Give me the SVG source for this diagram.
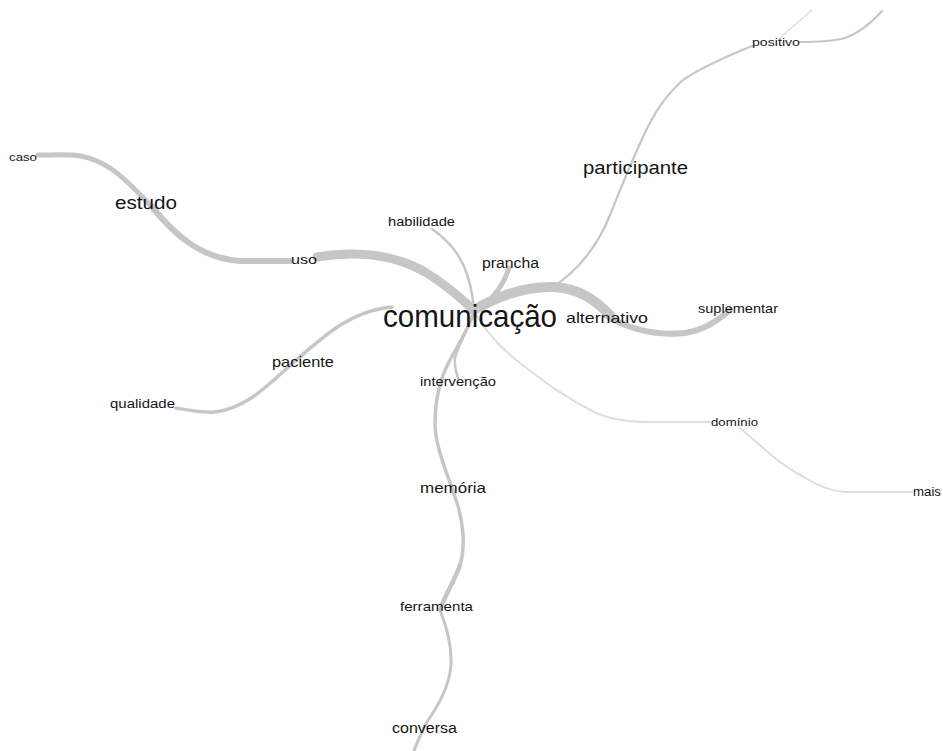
<svg xmlns="http://www.w3.org/2000/svg" width="943" height="751" viewBox="0 0 943 751">
<style>
.e{fill:none;stroke:#c6c6c6;stroke-linecap:round}
.l{stroke:#dedede}
.t{font-family:"Liberation Sans",Arial,sans-serif;fill:#151515}
</style>
<rect width="943" height="751" fill="#fff"/>
<g id="connectors">
<path class="e" stroke-width="5" d="M38,155 C70,155 85,152 110,168 C128,180 140,195 152,207"/>
<path class="e" stroke-width="6" d="M152,207 C175,235 200,258 240,261 L290,261"/>
<path class="e" stroke-width="9" d="M317,257 C360,250 395,255 425,272 C450,287 462,300 474,310"/>
<path class="e" stroke-width="2.5" d="M432,229 C455,245 470,265 474,310"/>
<path class="e" stroke-width="5" d="M509,268 C503,285 495,298 476,310"/>
<path class="e" stroke-width="10" d="M474,310 C505,292 530,286 555,287 C580,289 595,300 610,315"/>
<path class="e" stroke-width="6" d="M605,315 C630,330 655,336 685,333 C705,330 718,320 730,310"/>
<path class="e" stroke-width="2.2" d="M550,289 C580,270 598,245 610,215 C620,190 628,170 638,148 C648,125 660,100 683,80 C700,68 725,57 752,46"/>
<path class="e" stroke-width="2.2" d="M800,42 C815,42 830,42 845,38 C860,33 872,22 882,11"/>
<path class="e l" stroke-width="1.3" d="M781,37 L812,10"/>
<path class="e" stroke-width="3.5" d="M392,307 C370,309 350,318 333,330 C315,343 300,357 285,370 C265,388 245,408 215,412 C200,413 188,410 176,408"/>
<path class="e" stroke-width="3.5" d="M474,312 C468,330 458,345 450,360 C440,378 435,400 435,425 C436,450 448,475 456,500 C463,520 466,545 460,565"/>
<path class="e" stroke-width="4.5" d="M460,565 C455,580 445,595 440,610"/>
<path class="e" stroke-width="3" d="M440,610 C446,625 452,645 451,665 C449,690 435,710 427,722 C422,732 417,742 414,751"/>
<path class="e" stroke-width="2.5" d="M474,312 C468,330 458,345 455,358 C454,365 456,372 458,378"/>
<path class="e l" stroke-width="2" d="M474,312 C485,330 500,348 520,363 C540,378 560,395 596,413 C615,421 635,422 655,422 L710,422"/>
<path class="e l" stroke-width="2" d="M740,428 C760,445 780,465 804,477 C818,486 830,491 845,492 L913,492"/>
</g>
<g id="caso"><text class="t" x="9" y="161" font-size="11.5" textLength="28" lengthAdjust="spacingAndGlyphs">caso</text></g>
<g id="estudo"><text class="t" x="115" y="209" font-size="18" textLength="62" lengthAdjust="spacingAndGlyphs">estudo</text></g>
<g id="habilidade"><text class="t" x="388" y="226" font-size="12.5" textLength="67" lengthAdjust="spacingAndGlyphs">habilidade</text></g>
<g id="uso"><text class="t" x="291" y="264" font-size="13" textLength="26" lengthAdjust="spacingAndGlyphs">uso</text></g>
<g id="prancha"><text class="t" x="482" y="268" font-size="14" textLength="57" lengthAdjust="spacingAndGlyphs">prancha</text></g>
<g id="participante"><text class="t" x="583" y="174" font-size="18" textLength="105" lengthAdjust="spacingAndGlyphs">participante</text></g>
<g id="positivo"><text class="t" x="752" y="46" font-size="11.5" textLength="48" lengthAdjust="spacingAndGlyphs">positivo</text></g>
<g id="comunicacao"><text class="t" x="383" y="327" font-size="32" textLength="174" lengthAdjust="spacingAndGlyphs">comunicação</text></g>
<g id="alternativo"><text class="t" x="566" y="323" font-size="15" textLength="82" lengthAdjust="spacingAndGlyphs">alternativo</text></g>
<g id="suplementar"><text class="t" x="698" y="313" font-size="13" textLength="80" lengthAdjust="spacingAndGlyphs">suplementar</text></g>
<g id="paciente"><text class="t" x="272" y="367" font-size="14.5" textLength="62" lengthAdjust="spacingAndGlyphs">paciente</text></g>
<g id="intervencao"><text class="t" x="420" y="386" font-size="13.5" textLength="76" lengthAdjust="spacingAndGlyphs">intervenção</text></g>
<g id="qualidade"><text class="t" x="110" y="408" font-size="12.5" textLength="65" lengthAdjust="spacingAndGlyphs">qualidade</text></g>
<g id="dominio"><text class="t" x="711" y="426" font-size="11.5" textLength="47" lengthAdjust="spacingAndGlyphs">domínio</text></g>
<g id="mais"><text class="t" x="913" y="496" font-size="12" textLength="28" lengthAdjust="spacingAndGlyphs">mais</text></g>
<g id="memoria"><text class="t" x="420" y="493" font-size="15" textLength="66" lengthAdjust="spacingAndGlyphs">memória</text></g>
<g id="ferramenta"><text class="t" x="400" y="611" font-size="13.5" textLength="73" lengthAdjust="spacingAndGlyphs">ferramenta</text></g>
<g id="conversa"><text class="t" x="392" y="733" font-size="14" textLength="65" lengthAdjust="spacingAndGlyphs">conversa</text></g>
</svg>
